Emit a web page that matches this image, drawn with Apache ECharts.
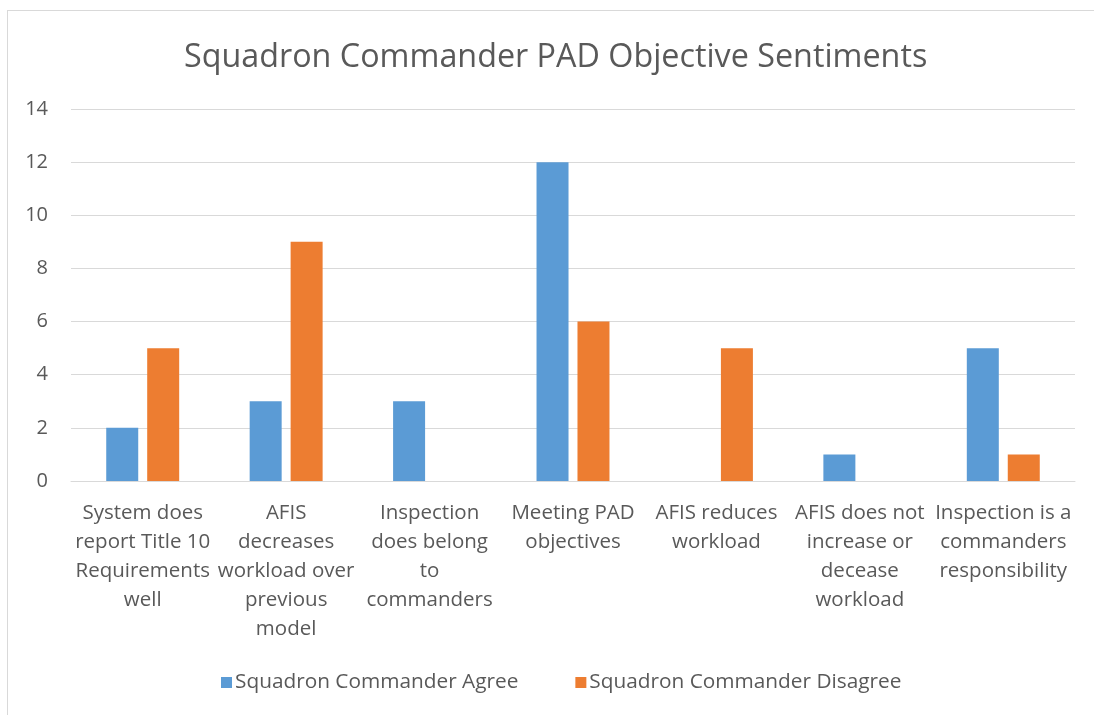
<!DOCTYPE html>
<html><head><meta charset="utf-8">
<script src="https://cdn.jsdelivr.net/npm/echarts@6/dist/echarts.min.js"></script>
<style>html,body{margin:0;padding:0;background:#fff;}#c{width:1094px;height:715px;}
#frame{position:absolute;left:7px;top:10px;width:1100px;height:720px;border:1px solid #d9d9d9;box-sizing:border-box;pointer-events:none;}</style>
</head><body><div id="c"></div><div id="frame"></div>
<script>
const categories = [
  "System does\nreport Title 10\nRequirements\nwell",
  "AFIS\ndecreases\nworkload over\nprevious\nmodel",
  "Inspection\ndoes belong\nto\ncommanders",
  "Meeting PAD\nobjectives",
  "AFIS reduces\nworkload",
  "AFIS does not\nincrease or\ndecease\nworkload",
  "Inspection is a\ncommanders\nresponsibility"
];
const agree = [2, 3, 3, 12, 0, 1, 5];
const disagree = [5, 9, 0, 6, 5, 0, 1];
const yTicks = [0, 2, 4, 6, 8, 10, 12, 14];
const seriesNames = ["Squadron Commander Agree", "Squadron Commander Disagree"];

const font = "'Open Sans', sans-serif";
const chart = echarts.init(document.getElementById('c'));
chart.setOption({
  animation: false,
  title: {
    text: "Squadron Commander PAD Objective Sentiments",
    left: 179, top: 37,
    textStyle: {fontFamily: font, fontSize: 32.3, fontWeight: 'normal', color: '#595959'}
  },
  legend: {
    data: seriesNames, bottom: 17, left: 216,
    itemWidth: 11, itemHeight: 11, itemGap: 57,
    icon: 'rect',
    textStyle: {fontFamily: font, fontSize: 20.8, color: '#595959', padding: [0,0,0,-2]}
  },
  grid: {left: 71, right: 19, top: 109, bottom: 234},
  xAxis: {
    type: 'category', data: categories,
    axisLine: {lineStyle: {color: '#d9d9d9', width: 1}},
    axisTick: {show: false},
    axisLabel: {interval: 0, fontFamily: font, fontSize: 20.5, color: '#595959', lineHeight: 29, margin: 18}
  },
  yAxis: {
    type: 'value', min: yTicks[0], max: yTicks[yTicks.length-1], interval: 2,
    axisLine: {show: false}, axisTick: {show: false},
    splitLine: {lineStyle: {color: '#d9d9d9', width: 1}},
    axisLabel: {fontFamily: font, fontSize: 20, color: '#595959', margin: 23}
  },
  series: [
    {name: seriesNames[0], type: 'bar', data: agree, barWidth: 32, barGap: '28%', itemStyle: {color: '#5B9BD5'}},
    {name: seriesNames[1], type: 'bar', data: disagree, barWidth: 32, itemStyle: {color: '#ED7D31'}}
  ]
});
</script></body></html>
